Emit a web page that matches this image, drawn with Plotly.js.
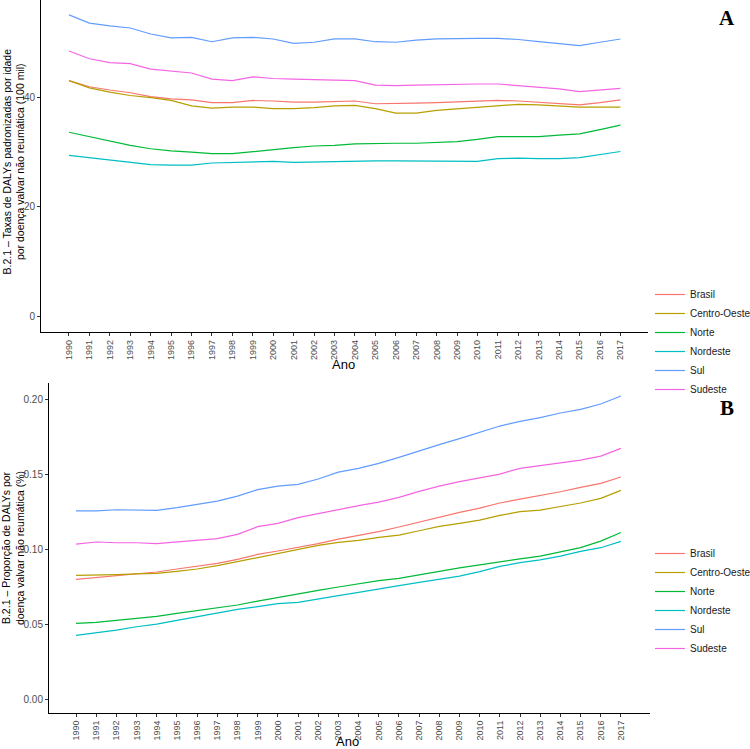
<!DOCTYPE html>
<html>
<head>
<meta charset="utf-8">
<script src="https://cdn.plot.ly/plotly-3.0.1.min.js"></script>
<style>html,body{margin:0;padding:0;background:#fff;}#chart{width:750px;height:749px;}</style>
</head>
<body>
<div id="chart"></div>
<script>
const years = [1990,1991,1992,1993,1994,1995,1996,1997,1998,1999,2000,2001,2002,2003,2004,2005,2006,2007,2008,2009,2010,2011,2012,2013,2014,2015,2016,2017];
const regions = ["Brasil","Centro-Oeste","Norte","Nordeste","Sul","Sudeste"];
const colors = ["#F8766D","#B79F00","#00BA38","#00BFC4","#619CFF","#F564E3"];

// Panel A: age-standardized DALY rates (per 100 mil)
const rateBrasil      = [43.0,41.9,41.3,40.8,40.1,39.7,39.5,39.0,39.0,39.4,39.3,39.1,39.1,39.2,39.3,38.8,38.8,38.9,39.0,39.1,39.2,39.4,39.3,39.1,38.8,38.6,39.0,39.5];
const rateCentroOeste = [43.0,41.7,40.9,40.3,39.9,39.4,38.4,38.0,38.2,38.2,37.9,37.9,38.1,38.4,38.5,37.9,37.1,37.1,37.6,37.9,38.1,38.5,38.7,38.6,38.4,38.2,38.2,38.2];
const rateNorte       = [33.6,32.8,32.0,31.2,30.6,30.2,30.0,29.7,29.7,30.1,30.4,30.8,31.1,31.2,31.5,31.6,31.6,31.6,31.7,31.9,32.3,32.8,32.8,32.8,33.1,33.3,34.1,34.9];
const rateNordeste    = [29.4,29.0,28.5,28.2,27.7,27.6,27.6,28.0,28.1,28.3,28.3,28.1,28.2,28.3,28.4,28.4,28.4,28.4,28.3,28.3,28.3,28.8,28.9,28.8,28.8,29.0,29.5,30.1];
const rateSul         = [55.0,53.5,53.0,52.6,51.5,50.8,50.9,50.1,50.8,50.9,50.6,49.8,50.0,50.6,50.6,50.1,50.0,50.4,50.6,50.7,50.7,50.7,50.5,50.1,49.7,49.4,50.0,50.6];
const rateSudeste     = [48.4,47.0,46.3,46.1,45.1,44.8,44.4,43.3,43.0,43.7,43.4,43.3,43.2,43.2,43.0,42.2,42.1,42.2,42.3,42.4,42.4,42.4,42.1,41.8,41.5,41.0,41.3,41.6];

// Panel B: proportion of DALYs (%)
const propBrasil      = [0.0798,0.0809,0.0822,0.0835,0.0847,0.0867,0.0885,0.0905,0.0931,0.0964,0.0987,0.1011,0.1036,0.1066,0.1091,0.1116,0.1147,0.1180,0.1216,0.1244,0.1273,0.1307,0.1333,0.1356,0.1382,0.1411,0.1438,0.1480];
const propCentroOeste = [0.0825,0.0825,0.0830,0.0834,0.0838,0.0851,0.0867,0.0889,0.0916,0.0947,0.0971,0.0996,0.1024,0.1045,0.1058,0.1078,0.1093,0.1122,0.1151,0.1171,0.1193,0.1224,0.1249,0.1260,0.1282,0.1307,0.1338,0.1391];
const propNorte       = [0.0504,0.0511,0.0524,0.0538,0.0551,0.0571,0.0589,0.0607,0.0627,0.0653,0.0678,0.0700,0.0724,0.0747,0.0769,0.0789,0.0804,0.0829,0.0855,0.0875,0.0895,0.0917,0.0935,0.0953,0.0980,0.1010,0.1053,0.1110];
const propNordeste    = [0.0424,0.0440,0.0460,0.0482,0.0500,0.0524,0.0549,0.0576,0.0598,0.0616,0.0636,0.0644,0.0664,0.0689,0.0711,0.0736,0.0756,0.0778,0.0800,0.0820,0.0849,0.0884,0.0909,0.0928,0.0953,0.0985,0.1009,0.1051];
const propSul         = [0.1255,0.1255,0.1262,0.1262,0.1258,0.1276,0.1300,0.1320,0.1353,0.1396,0.1420,0.1431,0.1467,0.1513,0.1538,0.1571,0.1611,0.1655,0.1696,0.1736,0.1776,0.1820,0.1851,0.1876,0.1907,0.1931,0.1967,0.2020];
const propSudeste     = [0.1033,0.1047,0.1042,0.1042,0.1036,0.1047,0.1058,0.1069,0.1098,0.1149,0.1171,0.1209,0.1236,0.1265,0.1289,0.1313,0.1344,0.1384,0.1420,0.1449,0.1473,0.1500,0.1538,0.1556,0.1573,0.1593,0.1620,0.1671];

const rateSeries = [rateBrasil, rateCentroOeste, rateNorte, rateNordeste, rateSul, rateSudeste];
const propSeries = [propBrasil, propCentroOeste, propNorte, propNordeste, propSul, propSudeste];

const W = 750, H = 749;
const px = v => v / W;
const py = v => 1 - v / H;

const traces = [];
regions.forEach((r, i) => {
  traces.push({x: years, y: rateSeries[i], name: r, type: 'scatter', mode: 'lines',
    line: {color: colors[i], width: 1.2}, xaxis: 'x', yaxis: 'y', legend: 'legend', showlegend: true});
});
regions.forEach((r, i) => {
  traces.push({x: years, y: propSeries[i], name: r, type: 'scatter', mode: 'lines',
    line: {color: colors[i], width: 1.2}, xaxis: 'x2', yaxis: 'y2', legend: 'legend2', showlegend: true});
});

const tickFont = {family: 'Liberation Sans, Arial, sans-serif', size: 9, color: '#4D4D4D'};
const yTickFont = {family: 'Liberation Sans, Arial, sans-serif', size: 10, color: '#4D4D4D'};
const axisCommon = {showgrid: false, zeroline: false, showline: true, linecolor: '#000', linewidth: 1,
  ticks: 'outside', ticklen: 3, tickcolor: '#333', tickwidth: 1};

const legendCommon = {font: {family: 'Liberation Sans, Arial, sans-serif', size: 10, color: '#1a1a1a'},
  bgcolor: 'rgba(0,0,0,0)', borderwidth: 0, xanchor: 'left', yanchor: 'middle', tracegroupgap: 0, itemwidth: 30};

const titleFont = {family: 'Liberation Sans, Arial, sans-serif', size: 10.5, color: '#000'};

const layout = {
  width: W, height: H,
  margin: {l: 0, r: 0, t: 0, b: 0, autoexpand: false},
  paper_bgcolor: '#fff', plot_bgcolor: '#fff',
  xaxis: Object.assign({}, axisCommon, {domain: [px(41), px(648)], range: [1988.63, 2018.35],
    tickmode: 'array', tickvals: years, ticktext: years.map(String), tickangle: -90, tickfont: tickFont, anchor: 'y'}),
  yaxis: Object.assign({}, axisCommon, {domain: [py(332.3), py(0)], range: [-2.84, 57.7],
    tickmode: 'array', tickvals: [0, 20, 40], tickfont: yTickFont, anchor: 'x'}),
  xaxis2: Object.assign({}, axisCommon, {domain: [px(49), px(650)], range: [1988.66, 2018.44],
    tickmode: 'array', tickvals: years, ticktext: years.map(String), tickangle: -90, tickfont: tickFont, anchor: 'y2'}),
  yaxis2: Object.assign({}, axisCommon, {domain: [py(713), py(383)], range: [-0.0093, 0.2107],
    tickmode: 'array', tickvals: [0, 0.05, 0.10, 0.15, 0.20], tickformat: '.2f', tickfont: yTickFont, anchor: 'x2'}),
  legend: Object.assign({}, legendCommon, {x: px(650), y: py(342)}),
  legend2: Object.assign({}, legendCommon, {x: px(650), y: py(601)}),
  annotations: [
    {text: 'B.2.1 – Taxas de DALYs padronizadas por idade<br>por doença valvar não reumática (100 mil)',
     textangle: -90, xref: 'paper', yref: 'paper', x: px(13.5), y: py(162), showarrow: false,
     xanchor: 'center', yanchor: 'middle', font: titleFont},
    {text: 'B.2.1 – Proporção de DALYs por<br>doença valvar não reumática (%)',
     textangle: -90, xref: 'paper', yref: 'paper', x: px(13), y: py(548), showarrow: false,
     xanchor: 'center', yanchor: 'middle', font: titleFont},
    {text: 'Ano', xref: 'paper', yref: 'paper', x: px(343), y: py(364), showarrow: false,
     xanchor: 'center', yanchor: 'middle', font: {family: 'Liberation Sans, Arial, sans-serif', size: 13, color: '#000'}},
    {text: 'Ano', xref: 'paper', yref: 'paper', x: px(347), y: py(741), showarrow: false,
     xanchor: 'center', yanchor: 'middle', font: {family: 'Liberation Sans, Arial, sans-serif', size: 13, color: '#000'}},
    {text: '<b>A</b>', xref: 'paper', yref: 'paper', x: px(727), y: py(18), showarrow: false,
     xanchor: 'center', yanchor: 'middle', font: {family: 'Liberation Serif, DejaVu Serif, serif', size: 21, color: '#000'}},
    {text: '<b>B</b>', xref: 'paper', yref: 'paper', x: px(727), y: py(408), showarrow: false,
     xanchor: 'center', yanchor: 'middle', font: {family: 'Liberation Serif, DejaVu Serif, serif', size: 21, color: '#000'}}
  ]
};

Plotly.newPlot('chart', traces, layout, {displayModeBar: false, staticPlot: true});
</script>
</body>
</html>
